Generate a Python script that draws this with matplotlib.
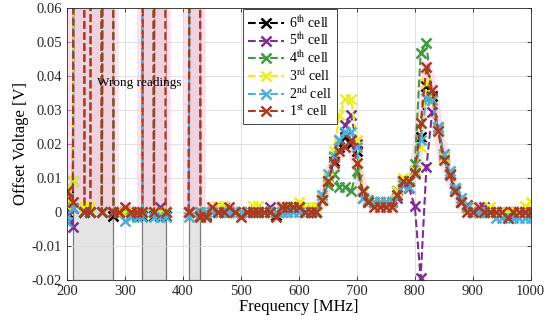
import numpy as np
import matplotlib
matplotlib.use("Agg")
import matplotlib.pyplot as plt
from matplotlib.ticker import FuncFormatter

plt.rcParams["font.family"] = ["Liberation Serif", "DejaVu Serif"]
plt.rcParams["mathtext.fontset"] = "stix"
plt.rcParams["axes.unicode_minus"] = False

nan = np.nan
S = 1.0  # wrong readings, far above the axis

freq = [200, 210, 220, 230, 240, 250, 260, 270, 280, 290,
        300, 310, 320, 330, 340, 350, 360, 370, 380, 390,
        400, 410, 420, 430, 440, 450, 460, 470, 480, 490,
        500, 510, 520, 530, 540, 550, 560, 570, 580, 590,
        600, 610, 620, 630, 640, 650, 660, 670, 680, 690,
        700, 710, 720, 730, 740, 750, 760, 770, 780, 790,
        800, 810, 820, 830, 840, 850, 860, 870, 880, 890,
        900, 910, 920, 930, 940, 950, 960, 970, 980, 990, 1000]

cell6 = [0.0, 0.001, S, 0.0, 0.0, S, 0.0, S, -0.0012, 0.0,
         0.0, -0.001, -0.0012, -0.0013, S, -0.0012, -0.0013, -0.0012, nan, nan,
         nan, 0.0, S, -0.0012, -0.001, 0.0, 0.0, 0.0, 0.0, 0.0,
         0.0, 0.0, 0.0, 0.0, 0.0, 0.0, -0.001, 0.0015, 0.0015, 0.0015,
         0.0015, 0.0, 0.0, 0.0, 0.0035, 0.009, 0.015, 0.019, 0.022, 0.02,
         0.018, 0.006, 0.003, 0.003, 0.003, 0.003, 0.003, 0.006, 0.009, 0.009,
         0.012, 0.022, 0.037, 0.034, 0.024, 0.016, 0.011, 0.006, 0.003, 0.0015,
         0.0, 0.0, 0.0, 0.0, 0.0, 0.0, -0.001, 0.0, 0.0, 0.0, 0.0]

cell5 = [0.001, -0.0045, S, 0.0, 0.0, S, 0.0, S, 0.0, 0.0,
         0.0, 0.0, 0.0, 0.0, S, 0.0, 0.0015, 0.0, nan, nan,
         nan, 0.0, S, 0.0, 0.0, 0.0, 0.0, 0.0015, 0.0, 0.0,
         0.0, 0.0, 0.0, 0.0, 0.0, 0.0015, 0.0, 0.0, 0.0, 0.0015,
         0.0015, 0.0, 0.0, 0.0, 0.004, 0.009, 0.016, 0.021, 0.0256, 0.0285,
         0.02, 0.004, 0.003, 0.003, 0.003, 0.003, 0.003, 0.004, 0.008, 0.007,
         0.0016, -0.0195, 0.0133, 0.0295, 0.025, 0.017, 0.011, 0.007, 0.003, 0.002,
         0.0, 0.0, 0.0015, 0.0, 0.0, 0.0, 0.0, 0.0, 0.0, 0.0, 0.0]

cell4 = [0.002, 0.009, S, 0.0, 0.0, S, 0.0, S, 0.0, 0.0,
         0.0, 0.0, 0.0, 0.0, S, 0.0, 0.0, 0.0, nan, nan,
         nan, 0.0, S, -0.0013, -0.0013, 0.0, 0.0, 0.0, 0.0, 0.0,
         0.0, 0.0, 0.0, 0.0, 0.0, 0.0, 0.0, 0.0015, 0.0015, 0.0015,
         0.0015, 0.0, 0.0, 0.0, 0.0035, 0.008, 0.011, 0.0074, 0.0074, 0.006,
         0.012, 0.006, 0.0035, 0.003, 0.003, 0.003, 0.003, 0.006, 0.009, 0.009,
         0.014, 0.0467, 0.0496, 0.033, 0.024, 0.016, 0.011, 0.006, 0.003, 0.0015,
         0.0, 0.0, 0.0, 0.0, 0.0, 0.0, 0.0, 0.0, 0.0, 0.0, 0.0]

cell3 = [0.0017, 0.009, S, 0.0015, 0.0015, S, 0.0, S, 0.0, 0.0,
         0.0, 0.0, 0.0, 0.0, S, 0.0, 0.0, 0.0, nan, nan,
         nan, 0.0, S, 0.0, 0.0, 0.0, 0.0016, 0.0016, 0.0, 0.0,
         0.0, 0.0, 0.0016, 0.0016, 0.0, 0.0, 0.0, 0.0015, 0.0015, 0.0015,
         0.003, 0.0015, 0.0015, 0.0015, 0.004, 0.01, 0.018, 0.0285, 0.0331, 0.0331,
         0.0212, 0.006, 0.003, 0.003, 0.003, 0.003, 0.003, 0.006, 0.01, 0.0095,
         0.012, 0.019, 0.038, 0.033, 0.024, 0.016, 0.012, 0.007, 0.004, 0.0015,
         0.0, 0.0, 0.0, 0.0015, 0.0, 0.0, 0.0, 0.0, 0.0, 0.0018, 0.003]

cell2 = [-0.0029, 0.001, S, 0.0, 0.0, S, 0.0, S, 0.0, 0.0,
         -0.0027, -0.0015, -0.0015, -0.0015, S, -0.0015, -0.0015, -0.0015, nan, nan,
         nan, -0.0015, S, 0.0, 0.0, 0.0, 0.0, 0.0, 0.0, 0.0,
         0.0, 0.0, 0.0, 0.0, 0.0, 0.0, 0.0, 0.0, 0.0, 0.0,
         0.0, 0.0, 0.0, 0.0, 0.005, 0.011, 0.0163, 0.021, 0.0236, 0.0236,
         0.019, 0.004, 0.003, 0.003, 0.003, 0.003, 0.003, 0.005, 0.008, 0.0074,
         0.011, 0.021, 0.0334, 0.033, 0.025, 0.017, 0.012, 0.007, 0.004, 0.0015,
         0.0, 0.0, 0.0, 0.0, -0.0018, -0.0018, -0.0018, -0.0018, -0.0018, -0.0018, -0.0018]

cell1 = [0.006, 0.003, S, 0.0, 0.0, S, 0.0, S, 0.0, 0.0,
         0.0015, 0.0, 0.0, 0.0, S, 0.0, S, 0.0, nan, nan,
         nan, 0.0, S, -0.0014, -0.0014, 0.0015, 0.0, 0.0, 0.0015, 0.0,
         -0.0015, 0.0, 0.0, 0.0, 0.0, 0.0, -0.0016, 0.0015, 0.0015, 0.0015,
         0.0015, 0.0, 0.0, 0.0, 0.0035, 0.009, 0.0144, 0.018, 0.0192, 0.0212,
         0.0144, 0.006, 0.003, 0.0015, 0.0015, 0.0015, 0.0015, 0.005, 0.009, 0.009,
         0.0115, 0.026, 0.0427, 0.0359, 0.0238, 0.0153, 0.0109, 0.006, 0.003, 0.0,
         0.0, 0.0015, 0.0, 0.0, 0.0, 0.0, -0.0017, 0.0, 0.0, 0.0, 0.0]

labels = [r"6$^{\mathrm{th}}$ cell", r"5$^{\mathrm{th}}$ cell", r"4$^{\mathrm{th}}$ cell",
          r"3$^{\mathrm{rd}}$ cell", r"2$^{\mathrm{nd}}$ cell", r"1$^{\mathrm{st}}$ cell"]
colors = ["#000000", "#7E2F8E", "#3F9B3F", "#EDED1A", "#4DAFD8", "#A83A22"]
series = [cell6, cell5, cell4, cell3, cell2, cell1]

# frequency bands where the readings are wrong
bad_bands = [(210, 280), (330, 370), (410, 430)]

fig = plt.figure(figsize=(5.5, 3.27), dpi=100)
ax = fig.add_axes([0.122, 0.144, 0.843, 0.832])

for lo, hi in bad_bands:
    ax.axvspan(lo, hi, facecolor="#e4e4e4", edgecolor="#7a7a7a", linewidth=0.9, zorder=0.3)

# pinkish halo seen around the 1st-cell trace
ax.plot(freq, cell1, color="#ffc0d8", linewidth=8, alpha=0.5, zorder=1)

for vals, lab, col in zip(series, labels, colors):
    ax.plot(freq, vals, linestyle="--", color=col, linewidth=1.5, marker="x",
            markersize=7, markeredgewidth=1.8, label=lab, zorder=2)

ax.text(252, 0.038, "Wrong readings", fontsize=9.5, va="center", ha="left", zorder=3)

ax.set_xlim(200, 1000)
ax.set_ylim(-0.02, 0.06)
ax.set_xticks(np.arange(200, 1001, 100))
ax.set_yticks(np.arange(-0.02, 0.0601, 0.01))
ax.yaxis.set_major_formatter(FuncFormatter(lambda v, p: "%g" % round(v, 4)))
ax.tick_params(direction="in", length=3, width=0.6, top=True, right=True,
               labelsize=10.5, colors="#262626")
ax.grid(True, color="#dcdcdc", linewidth=0.6)
ax.set_axisbelow(True)
for sp in ax.spines.values():
    sp.set_color("#262626")
    sp.set_linewidth(0.6)

ax.set_xlabel("Frequency [MHz]", fontsize=12, labelpad=1)
ax.set_ylabel("Offset Voltage [V]", fontsize=12, labelpad=2)

leg = ax.legend(loc="upper left", bbox_to_anchor=(0.379, 0.995), fontsize=10,
                frameon=True, fancybox=False, framealpha=1, edgecolor="#262626",
                handlelength=2.6, handletextpad=0.4, labelspacing=0.1,
                borderpad=0.35, borderaxespad=0)
leg.get_frame().set_linewidth(0.6)

fig.savefig("out.png", dpi=100)
